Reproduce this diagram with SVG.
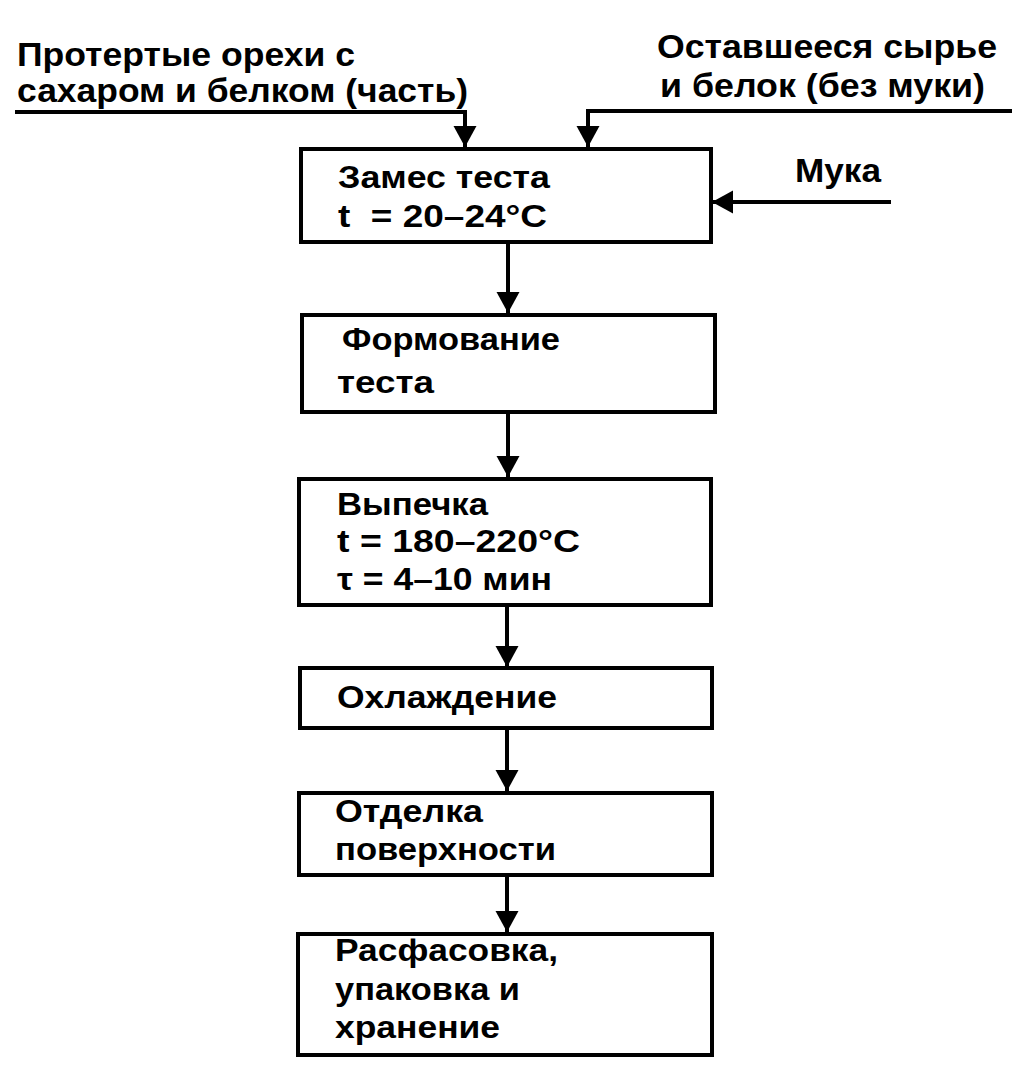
<svg xmlns="http://www.w3.org/2000/svg" width="1035" height="1085" viewBox="0 0 1035 1085">
<style>
.box{fill:#fff;stroke:#000;stroke-width:4}
.t{font-family:"Liberation Sans",Arial,sans-serif;font-weight:bold;font-size:31px;fill:#000}
.lbl{font-family:"Liberation Sans",Arial,sans-serif;font-weight:bold;font-size:34px;fill:#000}
.c{fill:none;stroke:#000;stroke-width:4}
</style>
<defs>
<marker id="ah" markerUnits="userSpaceOnUse" markerWidth="24" markerHeight="24" refX="21" refY="11.5" orient="auto">
<path d="M0,0 L21,11.5 L0,23 z" fill="#000"/>
</marker>
</defs>
<rect width="1035" height="1085" fill="#fff"/>
<g id="connectors">
<polyline class="c" points="15,112 465,112 465,147" marker-end="url(#ah)"/>
<polyline class="c" points="1012,111 588,111 588,147" marker-end="url(#ah)"/>
<line class="c" x1="891" y1="202" x2="712" y2="202" marker-end="url(#ah)"/>
<line class="c" x1="508" y1="242" x2="508" y2="313" marker-end="url(#ah)"/>
<line class="c" x1="508" y1="412" x2="508" y2="477" marker-end="url(#ah)"/>
<line class="c" x1="507" y1="605" x2="507" y2="667" marker-end="url(#ah)"/>
<line class="c" x1="507" y1="728" x2="507" y2="791" marker-end="url(#ah)"/>
<line class="c" x1="507" y1="875" x2="507" y2="932" marker-end="url(#ah)"/>
</g>
<g id="in-nuts">
<text class="lbl" x="17" y="66" textLength="338" lengthAdjust="spacingAndGlyphs">Протертые орехи с</text>
<text class="lbl" x="17" y="102" textLength="451" lengthAdjust="spacingAndGlyphs">сахаром и белком (часть)</text>
</g>
<g id="in-rest">
<text class="lbl" x="657" y="58" textLength="340" lengthAdjust="spacingAndGlyphs">Оставшееся сырье</text>
<text class="lbl" x="660" y="97" textLength="325" lengthAdjust="spacingAndGlyphs">и белок (без муки)</text>
</g>
<g id="in-flour">
<text class="lbl" x="795" y="182" textLength="86" lengthAdjust="spacingAndGlyphs">Мука</text>
</g>
<g id="n1">
<rect class="box" x="301" y="149" width="410" height="93"/>
<text class="t" x="338" y="188" textLength="212" lengthAdjust="spacingAndGlyphs">Замес теста</text>
<text class="t" x="338" y="227" textLength="209" lengthAdjust="spacingAndGlyphs" xml:space="preserve">t  = 20–24°C</text>
</g>
<g id="n2">
<rect class="box" x="302" y="315" width="413" height="97"/>
<text class="t" x="342" y="350" textLength="218" lengthAdjust="spacingAndGlyphs">Формование</text>
<text class="t" x="337" y="393" textLength="97" lengthAdjust="spacingAndGlyphs">теста</text>
</g>
<g id="n3">
<rect class="box" x="299" y="479" width="412" height="126"/>
<text class="t" x="337" y="515" textLength="151" lengthAdjust="spacingAndGlyphs">Выпечка</text>
<text class="t" x="337" y="552" textLength="243" lengthAdjust="spacingAndGlyphs">t = 180–220°C</text>
<text class="t" x="337" y="590" textLength="215" lengthAdjust="spacingAndGlyphs">τ = 4–10 мин</text>
</g>
<g id="n4">
<rect class="box" x="300" y="668" width="412" height="60"/>
<text class="t" x="337" y="708" textLength="220" lengthAdjust="spacingAndGlyphs">Охлаждение</text>
</g>
<g id="n5">
<rect class="box" x="299" y="793" width="413" height="82"/>
<text class="t" x="335" y="822" textLength="148" lengthAdjust="spacingAndGlyphs">Отделка</text>
<text class="t" x="335" y="860" textLength="221" lengthAdjust="spacingAndGlyphs">поверхности</text>
</g>
<g id="n6">
<rect class="box" x="298" y="934" width="414" height="121"/>
<text class="t" x="335" y="961" textLength="223" lengthAdjust="spacingAndGlyphs">Расфасовка,</text>
<text class="t" x="335" y="1000" textLength="185" lengthAdjust="spacingAndGlyphs">упаковка и</text>
<text class="t" x="335" y="1038" textLength="165" lengthAdjust="spacingAndGlyphs">хранение</text>
</g>
</svg>
